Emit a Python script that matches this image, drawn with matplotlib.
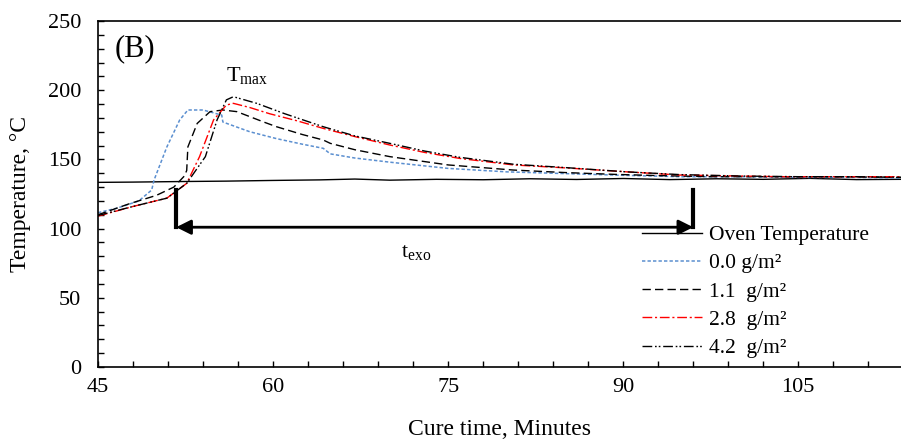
import matplotlib
matplotlib.use('Agg')
import matplotlib.pyplot as plt
from matplotlib.ticker import MultipleLocator

plt.rcParams['font.family'] = ['Liberation Serif', 'DejaVu Serif']
plt.rcParams['mathtext.fontset'] = 'custom'
plt.rcParams['mathtext.rm'] = 'Liberation Serif'
plt.rcParams['mathtext.it'] = 'Liberation Serif'

# oven temperature
oven_t = [45, 48, 52, 56, 60, 64, 67, 70, 74, 78, 82, 86, 90, 94, 98, 102, 106, 110, 113.8]
oven_T = [133.4, 133.6, 134, 134.3, 134.8, 135.2, 135.8, 135, 135.6, 135.3, 136, 135.5,
          136.2, 135.4, 136, 135.6, 136.3, 135.4, 135.6]

# 0.0 g/m2
t00 = [45, 46.6, 48.5, 49.6, 49.8, 50.9, 52.0, 52.7, 54.0, 55.6, 55.7, 58.0, 60.3, 62.5,
       64.3, 64.9, 67, 70, 75, 80, 84, 90, 95, 100, 105, 110, 113.8]
T00 = [111.5, 114.7, 120, 127.9, 135, 159, 178.5, 185.7, 185.7, 182, 177, 170, 165, 161,
       158, 154, 151, 148, 143.5, 141, 140, 138.5, 137.5, 137.5, 137, 137, 136.5]

# 1.1 g/m2
t11 = [45, 47.7, 50, 51.5, 52.4, 52.6, 52.7, 53.5, 54.6, 55.7, 56.9, 59.2, 60.3, 62.5,
       64.3, 64.9, 67, 70, 75, 80.6, 85, 89.2, 93, 97.7, 103, 108, 113.8]
T11 = [110, 118, 124, 130, 138, 142, 159, 176, 184.5, 185.7, 184.5, 177, 173.6, 168,
       164, 161.6, 157, 152, 146, 142.3, 140.5, 139.2, 138.3, 137.5, 137.5, 137.5, 137]

# 2.8 g/m2
t28 = [45, 48, 50.9, 52.6, 53.7, 54.9, 56.0, 56.6, 58, 59.7, 62, 64.3, 67, 70, 73, 76,
       80.6, 85.2, 90.3, 94.9, 100, 103.5, 108, 113.8]
T28 = [109, 116, 122, 132.7, 152, 178.5, 189.3, 190.5, 187.5, 183, 178, 172.4, 166.5,
       160.4, 155, 150.7, 146, 143.8, 141, 138.7, 138, 137.5, 137.5, 137.5]

# 4.2 g/m2
t42 = [45, 48, 50.9, 52.6, 54.2, 55.2, 56.0, 56.6, 58.6, 61, 64.3, 67, 70, 73, 76, 80.6,
       85.2, 90.3, 94.9, 100, 105, 110, 113.8]
T42 = [109.5, 116, 122, 132.7, 152, 178.5, 193, 195.3, 190.5, 183, 173.6, 167, 161.6,
       156, 151.5, 146.5, 144, 141, 139, 138, 137.5, 137.5, 137]

# t_exo marker
exo_start = 51.7
exo_end = 96.0
exo_top = 128
exo_level = 101


def main():
    fig = plt.figure(figsize=(9.01, 4.41), dpi=100)
    ax = fig.add_axes([98/901, 74/441, 803/901, 346/441])

    ax.plot(oven_t, oven_T, color='black', lw=1.0, label='Oven Temperature')
    ax.plot(t00, T00, color='#5b8fd0', lw=1.1, linestyle=(0, (2.2, 1.4)), label='0.0 g/m²')
    ax.plot(t11, T11, color='black', lw=1.0, linestyle=(0, (6, 3)), label='1.1  g/m²')
    ax.plot(t28, T28, color='red', lw=1.0, linestyle=(0, (7, 2, 1.5, 2)), label='2.8  g/m²')
    ax.plot(t42, T42, color='black', lw=1.0, linestyle=(0, (7, 2, 1.2, 1.5, 1.2, 2)),
            label='4.2  g/m²')

    ax.plot([exo_start, exo_start], [exo_top, exo_level], color='black', lw=3)
    ax.plot([exo_end, exo_end], [exo_top, exo_level], color='black', lw=3)
    ax.annotate('', xy=(exo_start, exo_level), xytext=(exo_end, exo_level),
                arrowprops=dict(arrowstyle='<|-|>', color='black', lw=2,
                                mutation_scale=22, shrinkA=0, shrinkB=0))

    ax.text(46.4, 230, '(B)', fontsize=22, va='center')
    ax.text(56.0, 207, r'T$_{\mathrm{max}}$', fontsize=16)
    ax.text(71.0, 79.5, r't$_{\mathrm{exo}}$', fontsize=16)

    ax.set_xlim(45, 113.8)
    ax.set_ylim(0, 250)
    ax.xaxis.set_major_locator(MultipleLocator(15))
    ax.xaxis.set_minor_locator(MultipleLocator(3))
    ax.yaxis.set_major_locator(MultipleLocator(50))
    ax.yaxis.set_minor_locator(MultipleLocator(10))
    ax.tick_params(which='both', direction='in', length=4, width=1, labelsize=16)
    ax.tick_params(axis='x', pad=8)
    ax.tick_params(axis='y', pad=12)
    ax.spines['right'].set_visible(False)
    for s in ['left', 'bottom', 'top']:
        ax.spines[s].set_linewidth(1.2)

    ax.set_xlabel('Cure time, Minutes', fontsize=17, labelpad=16)
    ax.set_ylabel('Temperature, °C', fontsize=17, labelpad=12)

    ax.legend(loc='upper left', bbox_to_anchor=(642/901, 1 - 225/441),
              bbox_transform=fig.transFigure, frameon=False, fontsize=15.5,
              handlelength=2.8, handletextpad=0.33, labelspacing=0.38,
              borderpad=0, borderaxespad=0)

    fig.savefig('out.png', dpi=100)


if __name__ == '__main__':
    main()
